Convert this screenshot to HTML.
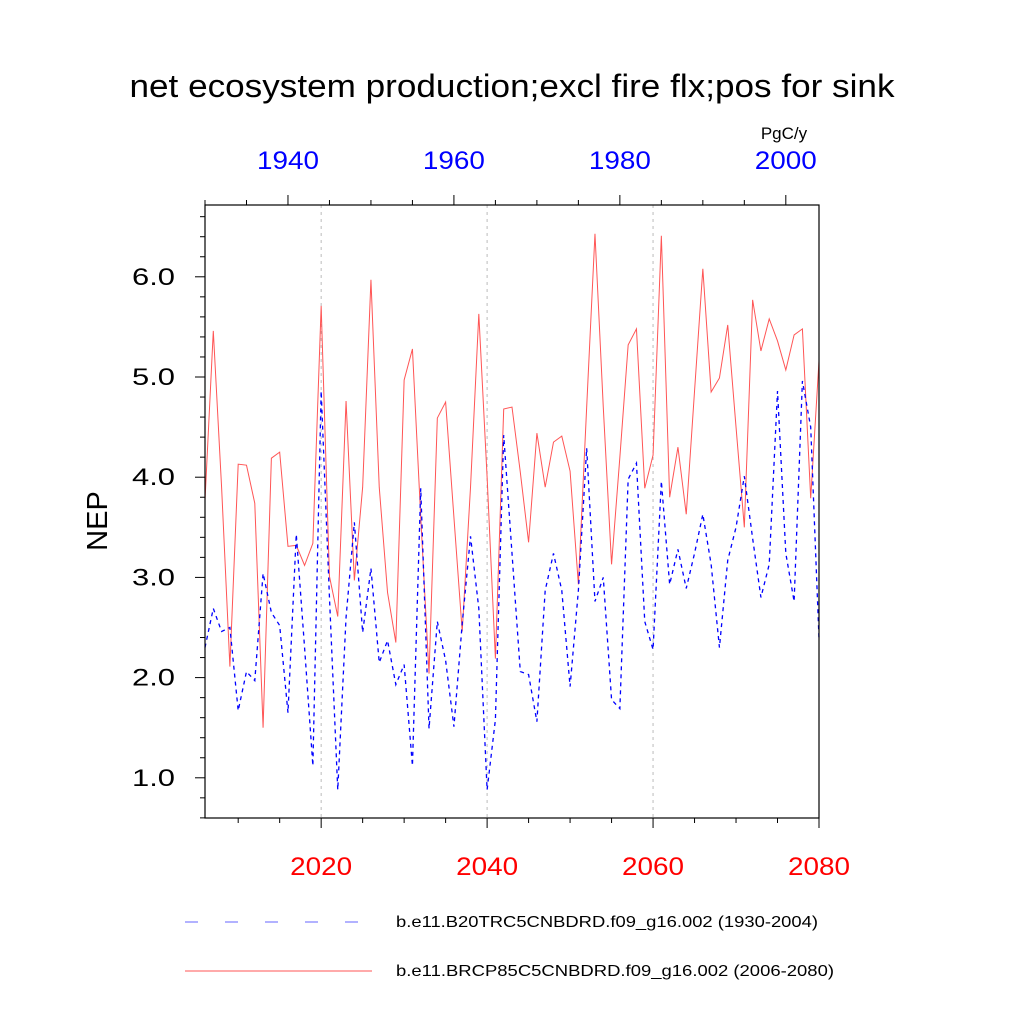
<!DOCTYPE html>
<html><head><meta charset="utf-8"><style>
body{margin:0;background:#fff}
svg text{font-family:"Liberation Sans",sans-serif}
</style></head><body>
<svg id="c" width="1024" height="1024" xmlns="http://www.w3.org/2000/svg"></svg>
<script>
const redYears=[2006,2080];
const blueYears=[1930,2004];
const redValues=[3.77,5.46,3.9,2.11,4.13,4.12,3.74,1.50,4.19,4.25,3.31,3.32,3.12,3.34,5.71,3.01,2.61,4.76,2.97,3.9,5.97,3.9,2.85,2.35,4.97,5.28,3.6,2.04,4.59,4.75,3.6,2.46,3.9,5.63,4.0,2.19,4.68,4.70,4.05,3.35,4.44,3.90,4.35,4.41,4.06,2.93,4.7,6.43,4.7,3.13,4.2,5.32,5.48,3.89,4.22,6.41,3.80,4.30,3.63,4.86,6.08,4.85,4.99,5.52,4.5,3.5,5.77,5.26,5.58,5.36,5.07,5.42,5.48,3.79,5.16];
const blueValues=[2.30,2.69,2.46,2.50,1.67,2.06,1.97,3.04,2.65,2.52,1.65,3.43,2.3,1.12,4.86,2.8,0.88,2.6,3.55,2.45,3.09,2.15,2.37,1.93,2.13,1.12,3.89,1.49,2.56,2.17,1.51,2.54,3.41,2.69,0.88,1.58,4.42,3.24,2.06,2.03,1.56,2.87,3.24,2.87,1.91,2.87,4.29,2.76,3.0,1.78,1.69,3.98,4.14,2.56,2.28,3.96,2.93,3.28,2.89,3.24,3.63,3.13,2.30,3.17,3.5,4.01,3.39,2.80,3.13,4.86,3.24,2.76,4.96,4.5,2.39];
const yTicks=[1.0,2.0,3.0,4.0,5.0,6.0];
const bottomTicks=[2020,2040,2060,2080];
const topTicks=[1940,1960,1980,2000];

const L=205,R=819,T=205,B=818;
const ys=v=>878-v*100.2;
const xr=yr=>L+(yr-2006)*(R-L)/74;
const xb=yr=>L+(yr-1930)*(R-L)/74;
const svg=document.getElementById('c');
const NS='http://www.w3.org/2000/svg';
function mk(tag,attrs,parent){const e=document.createElementNS(NS,tag);for(const k in attrs)e.setAttribute(k,attrs[k]);(parent||svg).appendChild(e);return e;}

let t=mk('text',{x:512,y:97,'font-size':32,'text-anchor':'middle',textLength:765,lengthAdjust:'spacingAndGlyphs'});


t.textContent='net ecosystem production;excl fire flx;pos for sink';
t=mk('text',{x:784,y:139,'font-size':17,'text-anchor':'middle'});


t.textContent='PgC/y';
t=mk('text',{x:0,y:0,'font-size':29,'text-anchor':'middle',transform:'translate(107,521) rotate(-90)'});


t.textContent='NEP';

bottomTicks.slice(0,3).forEach(yr=>{
  const g=mk('line',{x1:xr(yr),x2:xr(yr),y1:T,y2:B,stroke:'#bbb','stroke-width':1,'stroke-dasharray':'3,4'});
  
  
});

for(let v=0.6;v<=6.7;v+=0.2){const y=ys(v);const major=Math.abs(v-Math.round(v))<0.01;mk('line',{x1:L,x2:L-(major?10:5),y1:y,y2:y,stroke:'#000','stroke-width':1});}
yTicks.forEach(v=>{const e=mk('text',{x:175,y:ys(v)+8,'font-size':24,'text-anchor':'end',textLength:43,lengthAdjust:'spacingAndGlyphs'});


e.textContent=v.toFixed(1);});
for(let yr=2010;yr<=2080;yr+=5){const x=xr(yr);const major=yr%20==0;mk('line',{x1:x,x2:x,y1:B,y2:B+(major?10:5),stroke:'#000'});}
bottomTicks.forEach(yr=>{const e=mk('text',{x:xr(yr),y:875,'font-size':25,'text-anchor':'middle',fill:'#f00',textLength:62,lengthAdjust:'spacingAndGlyphs'});


e.textContent=yr;});
for(let yr=1930;yr<=2004;yr+=5){const x=xb(yr);const major=yr%20==0;mk('line',{x1:x,x2:x,y1:T,y2:T-(major?10:5),stroke:'#000'});}
topTicks.forEach(yr=>{const e=mk('text',{x:xb(yr),y:169,'font-size':25,'text-anchor':'middle',fill:'#00f',textLength:62,lengthAdjust:'spacingAndGlyphs'});


e.textContent=yr;});

const pr=mk('polyline',{points:redValues.map((v,i)=>xr(2006+i)+','+ys(v)).join(' '),fill:'none',stroke:'#f55','stroke-width':1});


const pb=mk('polyline',{points:blueValues.map((v,i)=>xb(1930+i)+','+ys(v)).join(' '),fill:'none',stroke:'#00f','stroke-width':1.3,'stroke-dasharray':'4,4'});



const fr=mk('rect',{x:L,y:T,width:R-L,height:B-T,fill:'none',stroke:'#000','stroke-width':1.2});



let l=mk('line',{x1:185,x2:372,y1:922,y2:922,stroke:'#66f','stroke-width':1,'stroke-dasharray':'13,27'});


t=mk('text',{x:396,y:927,'font-size':16,textLength:422,lengthAdjust:'spacingAndGlyphs'});


t.textContent='b.e11.B20TRC5CNBDRD.f09_g16.002 (1930-2004)';
l=mk('line',{x1:185,x2:372,y1:971,y2:971,stroke:'#f55','stroke-width':1});


t=mk('text',{x:396,y:976,'font-size':16,textLength:438,lengthAdjust:'spacingAndGlyphs'});


t.textContent='b.e11.BRCP85C5CNBDRD.f09_g16.002 (2006-2080)';
</script>
</body></html>
